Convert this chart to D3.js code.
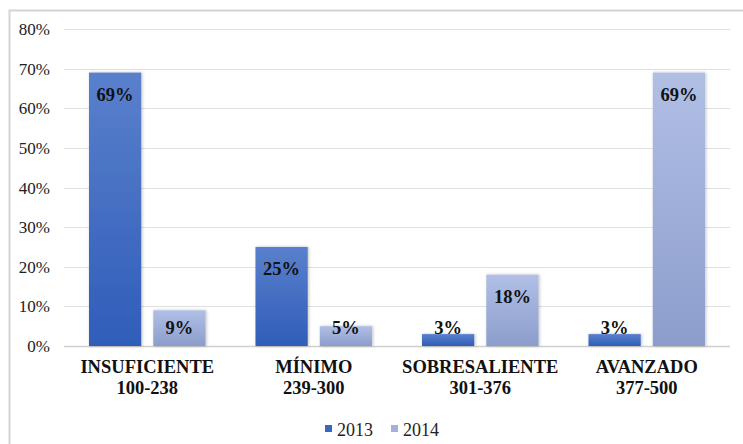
<!DOCTYPE html>
<html>
<head>
<meta charset="utf-8">
<script src="https://cdn.jsdelivr.net/npm/d3@7"></script>
<style>
  body { margin: 0; background: #fff; }
  svg { display: block; font-family: "Liberation Serif", "Times New Roman", serif; }
</style>
</head>
<body>
<svg width="743" height="444"></svg>
<script>
// categories (two-line labels)
var categories = ["INSUFICIENTE", "MÍNIMO", "SOBRESALIENTE", "AVANZADO"];
var ranges = ["100-238", "239-300", "301-376", "377-500"];
var years = ["2013", "2014"];
var values2013 = [0.69, 0.25, 0.03, 0.03];
var values2014 = [0.09, 0.05, 0.18, 0.69];
var yTicks = [0, 0.1, 0.2, 0.3, 0.4, 0.5, 0.6, 0.7, 0.8];

var svg = d3.select("svg");
var defs = svg.append("defs");

// gradients for the bars
function grad(id, c1, c2) {
  var g = defs.append("linearGradient").attr("id", id)
    .attr("x1", 0).attr("y1", 0).attr("x2", 0).attr("y2", 1);
  g.append("stop").attr("offset", "0%").attr("stop-color", c1);
  g.append("stop").attr("offset", "100%").attr("stop-color", c2);
}
grad("g2013", "#5a80cc", "#2f5db9");
grad("g2014", "#b1bfe5", "#8c9dcc");

var shadow = defs.append("filter").attr("id", "shadow")
  .attr("x", "-20%").attr("y", "-20%").attr("width", "140%").attr("height", "140%");
shadow.append("feDropShadow").attr("dx", 1).attr("dy", 0).attr("stdDeviation", 1.5)
  .attr("flood-color", "#000").attr("flood-opacity", 0.25);

var color = { "2013": "url(#g2013)", "2014": "url(#g2014)" };
var legendColor = { "2013": "#3a66c0", "2014": "#a3b2dc" };

// chart border
svg.append("rect")
  .attr("x", 9.5).attr("y", 10.5)
  .attr("width", 745).attr("height", 450)
  .attr("fill", "none").attr("stroke", "#d4d4d4").attr("stroke-width", 2);

var plotLeft = 64, plotRight = 730, plotTop = 29, plotBottom = 346;

var x = d3.scaleBand()
  .domain(categories)
  .range([plotLeft, plotRight])
  .paddingInner(0.30)
  .paddingOuter(0.15);

var xSub = d3.scaleBand()
  .domain(years)
  .range([0, x.bandwidth()])
  .paddingInner(0.1875);

var y = d3.scaleLinear()
  .domain([0, 0.8])
  .range([plotBottom, plotTop]);

// gridlines
svg.append("g")
  .selectAll("line")
  .data(yTicks)
  .enter().append("line")
  .attr("x1", plotLeft).attr("x2", plotRight)
  .attr("y1", function(d) { return Math.round(y(d)) + 0.5; })
  .attr("y2", function(d) { return Math.round(y(d)) + 0.5; })
  .attr("stroke", function(d) { return d === 0 ? "#cfcfcf" : "#e0e0e0"; })
  .attr("stroke-width", function(d) { return d === 0 ? 1.5 : 1; });

// y labels
svg.append("g")
  .selectAll("text")
  .data(yTicks)
  .enter().append("text")
  .attr("x", 50)
  .attr("y", function(d) { return y(d) + 6; })
  .attr("text-anchor", "end")
  .attr("font-size", 17)
  .attr("fill", "#222")
  .text(d3.format(".0%"));

var rows = [];
categories.forEach(function(c, i) {
  rows.push({ cat: c, year: "2013", value: values2013[i] });
  rows.push({ cat: c, year: "2014", value: values2014[i] });
});

// bars
svg.append("g")
  .selectAll("rect")
  .data(rows)
  .enter().append("rect")
  .attr("x", function(d) { return x(d.cat) + xSub(d.year); })
  .attr("y", function(d) { return y(d.value); })
  .attr("width", xSub.bandwidth())
  .attr("height", function(d) { return y(0) - y(d.value); })
  .attr("fill", function(d) { return color[d.year]; })
  .attr("filter", "url(#shadow)");

// value labels
svg.append("g")
  .selectAll("text")
  .data(rows)
  .enter().append("text")
  .attr("x", function(d) { return x(d.cat) + xSub(d.year) + xSub.bandwidth() / 2; })
  .attr("y", function(d) { return Math.min(y(d.value) + 28, y(0) - 12); })
  .attr("text-anchor", "middle")
  .attr("font-size", 18.5)
  .attr("font-weight", "bold")
  .attr("fill", "#111")
  .text(function(d) { return d3.format(".0%")(d.value); });

// category labels
var xl = svg.append("g")
  .selectAll("text")
  .data(categories)
  .enter().append("text")
  .attr("text-anchor", "middle")
  .attr("font-size", 18.5)
  .attr("font-weight", "bold")
  .attr("fill", "#111");
xl.append("tspan")
  .attr("x", function(d) { return x(d) + x.bandwidth() / 2; })
  .attr("y", 373)
  .text(function(d) { return d; });
xl.append("tspan")
  .attr("x", function(d) { return x(d) + x.bandwidth() / 2; })
  .attr("y", 394)
  .text(function(d, i) { return ranges[i]; });

// legend
var legend = svg.append("g")
  .selectAll("g")
  .data(years)
  .enter().append("g")
  .attr("transform", function(d, i) { return "translate(" + (325 + i * 66) + ",0)"; });
legend.append("rect")
  .attr("x", 0).attr("y", 425)
  .attr("width", 7).attr("height", 7)
  .attr("fill", function(d) { return legendColor[d]; });
legend.append("text")
  .attr("x", 12).attr("y", 436)
  .attr("font-size", 18)
  .attr("fill", "#222")
  .text(function(d) { return d; });
</script>
</body>
</html>
